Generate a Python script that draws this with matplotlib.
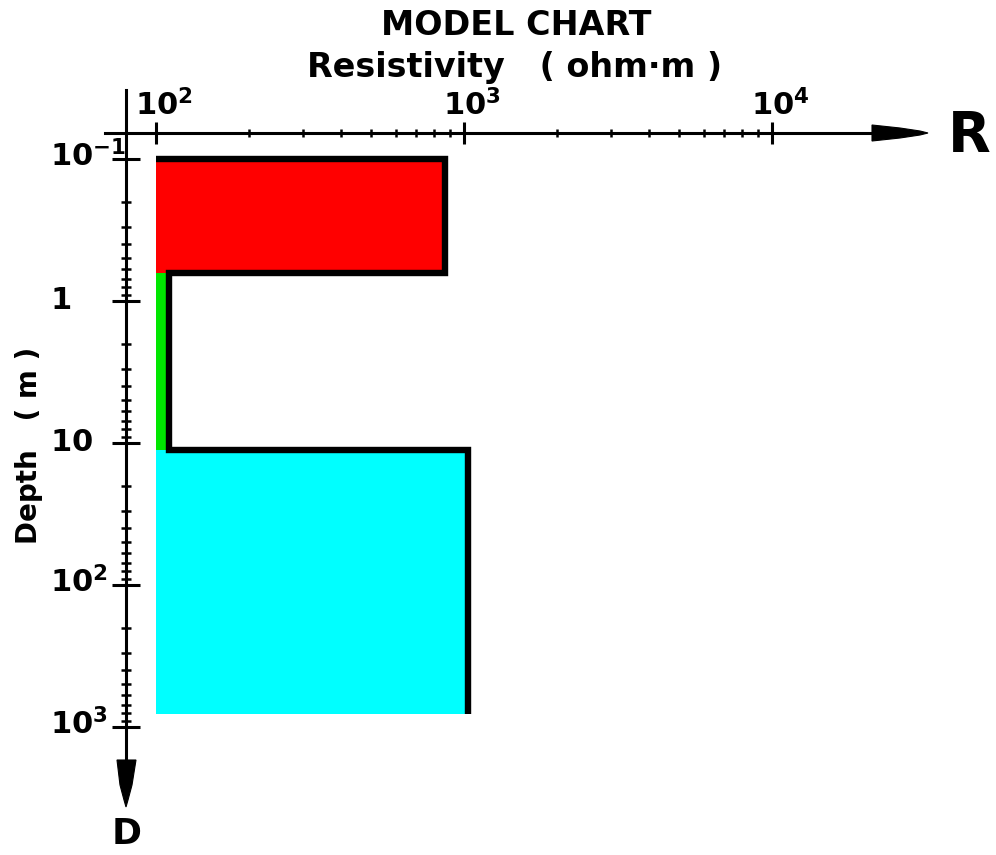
import matplotlib
matplotlib.use("Agg")
import matplotlib.pyplot as plt
from matplotlib.ticker import FixedLocator, NullFormatter
from matplotlib.transforms import blended_transform_factory, ScaledTranslation
from matplotlib.patches import Polygon
from matplotlib.lines import Line2D

# Layered earth model (resistivity in ohm·m, depths in m)
layer_resistivity = [867, 110, 1030]
layer_top = [0.1, 0.63, 11.2]
layer_bottom = [0.63, 11.2, 809]
layer_colors = ["#ff0000", "#00e600", "#00ffff"]
base_resistivity = 100

x_major = [1e2, 1e3, 1e4]
x_major_labels = [r"$\mathbf{10^{2}}$", r"$\mathbf{10^{3}}$", r"$\mathbf{10^{4}}$"]
y_major = [0.1, 1, 10, 100, 1000]
y_major_labels = [r"$\mathbf{10^{-1}}$", r"$\mathbf{1}$", r"$\mathbf{10}$",
                  r"$\mathbf{10^{2}}$", r"$\mathbf{10^{3}}$"]

plt.rcParams["font.family"] = ["DejaVu Sans"]
plt.rcParams["mathtext.fontset"] = "dejavusans"

W, H, DPI = 996, 855, 100
fig = plt.figure(figsize=(W / DPI, H / DPI), dpi=DPI)


def fx(px):
    return px / W


def fy(py):
    return 1 - py / H


# frame in pixels: origin of the axes cross and the arrow tips
x_org, x_end = 126, 928
y_org, y_end = 133, 807
x_dec, x_ref = 308.0, 156.0   # pixels per decade, pixel of 10^2
y_dec, y_ref = 142.0, 159.0   # pixels per decade, pixel of 10^-1

ax = fig.add_axes([fx(x_org), fy(y_end), (x_end - x_org) / W, (y_end - y_org) / H])
ax.set_xscale("log")
ax.set_yscale("log")
ax.set_xlim(10 ** (2 + (x_org - x_ref) / x_dec), 10 ** (2 + (x_end - x_ref) / x_dec))
ax.set_ylim(10 ** (-1 + (y_end - y_ref) / y_dec), 10 ** (-1 + (y_org - y_ref) / y_dec))
for s in ax.spines.values():
    s.set_visible(False)
ax.patch.set_visible(False)

# layer blocks
for rho, top, bot, col in zip(layer_resistivity, layer_top, layer_bottom, layer_colors):
    ax.fill_betweenx([top, bot], base_resistivity, rho, color=col, lw=0, zorder=1)

# step outline of the model
xs = [base_resistivity]
ys = [layer_top[0]]
for rho, top, bot in zip(layer_resistivity, layer_top, layer_bottom):
    xs += [rho, rho]
    ys += [top, bot]
ax.plot(xs, ys, color="black", lw=4.6, solid_joinstyle="miter",
        solid_capstyle="butt", zorder=3, clip_on=False)

# ticks
x_minor = [k * 10 ** d for d in (2, 3) for k in range(2, 10)]
y_minor = [k * 10.0 ** d for d in (-1, 0, 1, 2) for k in range(2, 10)]
ax.xaxis.set_major_locator(FixedLocator(x_major))
ax.xaxis.set_minor_locator(FixedLocator(x_minor))
ax.yaxis.set_major_locator(FixedLocator(y_major))
ax.yaxis.set_minor_locator(FixedLocator(y_minor))
ax.xaxis.set_major_formatter(NullFormatter())
ax.xaxis.set_minor_formatter(NullFormatter())
ax.yaxis.set_major_formatter(NullFormatter())
ax.yaxis.set_minor_formatter(NullFormatter())
ax.tick_params(axis="x", which="major", direction="inout", length=16.5, width=2.2,
               top=True, bottom=False, labeltop=False, labelbottom=False)
ax.tick_params(axis="x", which="minor", direction="inout", length=5.5, width=1.8,
               top=True, bottom=False)
ax.tick_params(axis="y", which="major", direction="inout", length=19.5, width=2.2,
               left=True, right=False, labelleft=False)
ax.tick_params(axis="y", which="minor", direction="inout", length=6.5, width=1.8,
               left=True, right=False)

# axis lines with arrow heads
fig.add_artist(Line2D([fx(105), fx(875)], [fy(y_org), fy(y_org)], lw=2.2, color="black"))
fig.add_artist(Line2D([fx(x_org), fx(x_org)], [fy(90), fy(762)], lw=2.2, color="black"))
arrow_r = [(872, 125), (900, 128), (920, 131), (928, 133), (920, 135), (900, 138), (872, 141)]
arrow_d = [(117, 760), (120, 785), (124, 800), (126, 807), (128, 800), (132, 785), (136, 760)]
for pts in (arrow_r, arrow_d):
    fig.add_artist(Polygon([(fx(a), fy(b)) for a, b in pts], closed=True,
                           transform=fig.transFigure, facecolor="black",
                           edgecolor="black", lw=0.8))

# tick labels
xt = blended_transform_factory(ax.transData, ax.transAxes) + \
    ScaledTranslation(-21 / DPI, 18 / DPI, fig.dpi_scale_trans)
for v, lab in zip(x_major, x_major_labels):
    ax.text(v, 1.0, lab, transform=xt, ha="left", va="baseline", fontsize=22, clip_on=False)
yt = blended_transform_factory(fig.transFigure, ax.transData) + \
    ScaledTranslation(0, -7.5 / DPI, fig.dpi_scale_trans)
for v, lab in zip(y_major, y_major_labels):
    ax.text(fx(50), v, lab, transform=yt, ha="left", va="baseline", fontsize=22, clip_on=False)

# titles and axis names
fig.text(fx(516), fy(35), "MODEL CHART", ha="center", va="baseline",
         fontsize=24, fontweight="bold")
fig.text(fx(515), fy(77), "Resistivity   ( ohm·m )", ha="center", va="baseline",
         fontsize=24, fontweight="bold")
fig.text(fx(29), fy(445), "Depth   ( m )", rotation=90, ha="center", va="center",
         fontsize=20, fontweight="bold")
fig.text(fx(969), fy(136), "R", ha="center", va="center", fontsize=40, fontweight="bold")
fig.text(fx(127), fy(834), "D", ha="center", va="center", fontsize=26, fontweight="bold")

fig.savefig("out.png", dpi=DPI)
